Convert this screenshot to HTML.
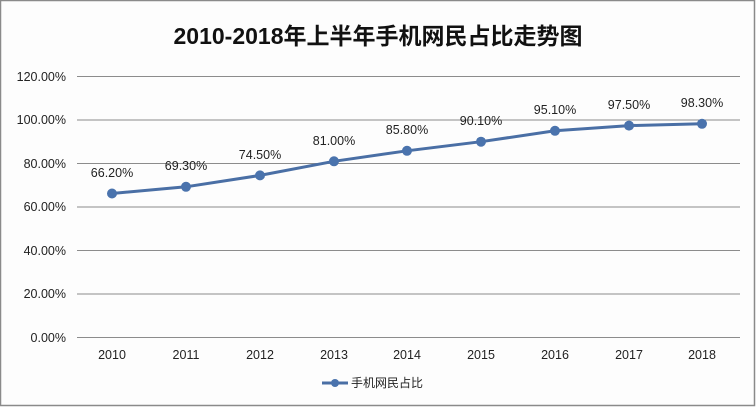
<!DOCTYPE html>
<html><head><meta charset="utf-8"><style>
html,body{margin:0;padding:0;background:#fff;}
svg{display:block;font-family:"Liberation Sans","Noto Sans CJK SC",sans-serif;}
</style></head><body>
<svg width="756" height="407" viewBox="0 0 756 407">
<rect x="0.5" y="0.5" width="754" height="405" fill="#fdfdfd" stroke="#8a8a8a" stroke-width="1.5"/>
<text x="378" y="44" text-anchor="middle" font-size="23" font-weight="bold" fill="#111" font-family="'Liberation Sans','Noto Sans CJK SC',sans-serif">2010-2018年上半年手机网民占比走势图</text>
<g stroke="#8c8c8c" stroke-width="1">
<line x1="77" x2="740" y1="76.5" y2="76.5"/>
<line x1="77" x2="740" y1="120" y2="120"/>
<line x1="77" x2="740" y1="163.5" y2="163.5"/>
<line x1="77" x2="740" y1="207" y2="207"/>
<line x1="77" x2="740" y1="250.5" y2="250.5"/>
<line x1="77" x2="740" y1="294" y2="294"/>
<line x1="77" x2="740" y1="337.5" y2="337.5"/>
</g>
<g font-size="12.5" fill="#222" text-anchor="end">
<text x="66" y="81">120.00%</text>
<text x="66" y="124">100.00%</text>
<text x="66" y="168">80.00%</text>
<text x="66" y="211">60.00%</text>
<text x="66" y="255">40.00%</text>
<text x="66" y="298">20.00%</text>
<text x="66" y="342">0.00%</text>
</g>
<g font-size="12.5" fill="#222" text-anchor="middle">
<text x="112" y="359">2010</text><text x="186" y="359">2011</text><text x="260" y="359">2012</text>
<text x="334" y="359">2013</text><text x="407" y="359">2014</text><text x="481" y="359">2015</text>
<text x="555" y="359">2016</text><text x="629" y="359">2017</text><text x="702" y="359">2018</text>
</g>
<polyline fill="none" stroke="#4a6fa5" stroke-width="3" points="112,193.5 186,186.8 260,175.4 334,161.3 407,150.8 481,141.7 555,130.8 629,125.6 702,123.8"/>
<g fill="#4a73ad">
<circle cx="112" cy="193.5" r="5"/><circle cx="186" cy="186.8" r="5"/><circle cx="260" cy="175.4" r="5"/>
<circle cx="334" cy="161.3" r="5"/><circle cx="407" cy="150.8" r="5"/><circle cx="481" cy="141.7" r="5"/>
<circle cx="555" cy="130.8" r="5"/><circle cx="629" cy="125.6" r="5"/><circle cx="702" cy="123.8" r="5"/>
</g>
<g font-size="12.5" fill="#222" text-anchor="middle">
<text x="112" y="177">66.20%</text><text x="186" y="170">69.30%</text><text x="260" y="159">74.50%</text>
<text x="334" y="145">81.00%</text><text x="407" y="134">85.80%</text><text x="481" y="125">90.10%</text>
<text x="555" y="114">95.10%</text><text x="629" y="109">97.50%</text><text x="702" y="107">98.30%</text>
</g>
<line x1="322" x2="348" y1="383" y2="383" stroke="#4a6fa5" stroke-width="3"/>
<circle cx="335" cy="383" r="4" fill="#4a73ad"/>
<text x="351" y="387" font-size="12" fill="#222">手机网民占比</text>
</svg>
</body></html>
